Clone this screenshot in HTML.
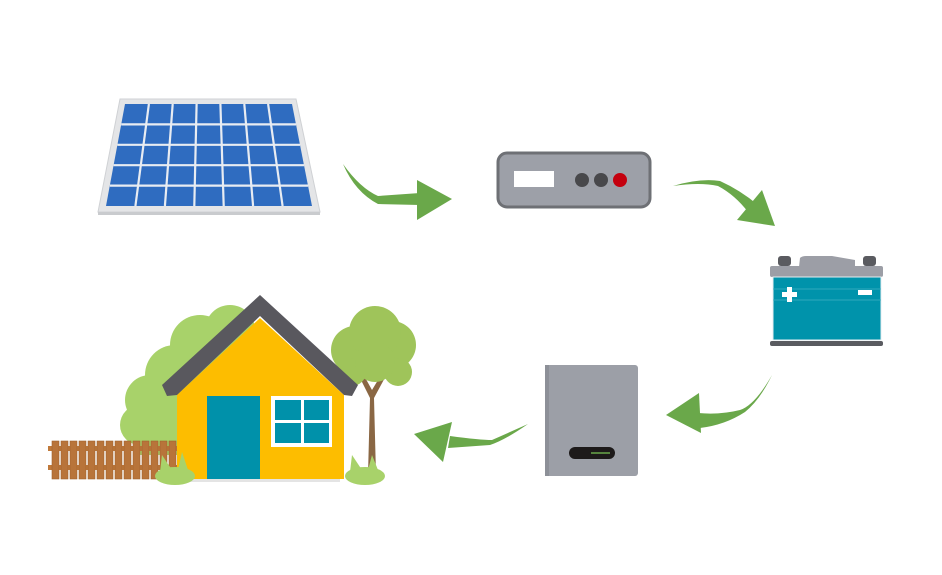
<!DOCTYPE html>
<html><head><meta charset="utf-8"><style>html,body{margin:0;padding:0;background:#fff;}svg{display:block}</style></head>
<body>
<svg width="942" height="575" viewBox="0 0 942 575" xmlns="http://www.w3.org/2000/svg">
<!-- Solar panel -->
<polygon points="120,99 296,99 320,212 98,212" fill="#e4e5e7" stroke="#cfd1d4" stroke-width="1"/>
<polygon points="98,212 320,212 320,215 98,215" fill="#c9cbce"/>
<polygon points="125,104 292,104 312,206 106,206" fill="#2f6cc0"/>
<g stroke="#e8ecf2" stroke-width="2.2">
<line x1="148.9" y1="104" x2="135.4" y2="206"/>
<line x1="172.7" y1="104" x2="164.9" y2="206"/>
<line x1="196.6" y1="104" x2="194.3" y2="206"/>
<line x1="220.4" y1="104" x2="223.7" y2="206"/>
<line x1="244.3" y1="104" x2="253.1" y2="206"/>
<line x1="268.1" y1="104" x2="282.6" y2="206"/>
<line x1="121.2" y1="124.4" x2="296" y2="124.4"/>
<line x1="117.4" y1="144.8" x2="300" y2="144.8"/>
<line x1="113.6" y1="165.2" x2="304" y2="165.2"/>
<line x1="109.8" y1="185.6" x2="308" y2="185.6"/>
</g>
<!-- Arrows -->
<g fill="#6aa84a">
<path d="M343,164 Q360,188 378,196 L420,193 L420,205 L378,204 Q355,192 343,164 Z"/>
<polygon points="417,180 452,199 417,220"/>
<path d="M673,186 Q700,178 720,181 Q740,190 758,205 L748,212 Q735,195 718,186 Q700,182 673,186 Z"/>
<polygon points="737,220 775,226 762,190"/>
<path d="M772,375 Q755,405 740,410 Q720,415 698,413 L700,428 Q725,425 745,412 Q760,400 772,375 Z"/>
<polygon points="666,415 699,393 701,433"/>
<path d="M528,424 Q505,440 490,445 L448,448 L450,436 Q480,440 492,440 Q510,432 528,424 Z"/>
<polygon points="414,434 452,422 443,462"/>
</g>
<!-- Charge controller -->
<rect x="498" y="153" width="152" height="54" rx="9" fill="#9da0a8" stroke="#6e7075" stroke-width="3"/>
<rect x="514" y="171" width="40" height="16" fill="#fff"/>
<circle cx="582" cy="180" r="7" fill="#48484b"/>
<circle cx="601" cy="180" r="7" fill="#48484b"/>
<circle cx="620" cy="180" r="7" fill="#c4000e"/>
<!-- Battery -->
<rect x="778" y="256" width="13" height="10" rx="3" fill="#5a5b60"/>
<rect x="863" y="256" width="13" height="10" rx="3" fill="#5a5b60"/>
<path d="M799,267 L800,258 Q802,256 806,256 L832,256 L855,260 L855,267 Z" fill="#9c9ea6"/>
<rect x="770" y="266" width="113" height="11" rx="2" fill="#9c9ea6"/>
<rect x="773" y="277" width="108" height="63" fill="#0093ab" stroke="#e6eef0" stroke-width="1"/>
<line x1="773" y1="289" x2="881" y2="289" stroke="#3fb0c2" stroke-width="0.7"/>
<line x1="773" y1="300" x2="881" y2="300" stroke="#3fb0c2" stroke-width="0.7"/>
<rect x="782" y="292" width="15" height="5" fill="#fff"/>
<rect x="787" y="287" width="5" height="15" fill="#fff"/>
<rect x="858" y="290" width="14" height="5" fill="#fff"/>
<rect x="770" y="341" width="113" height="5" rx="2" fill="#5a5b60"/>
<!-- Inverter -->
<rect x="545" y="365" width="93" height="111" rx="3" fill="#9c9fa7"/>
<rect x="545" y="365" width="4" height="111" fill="#8d9098"/>
<rect x="569" y="447" width="46" height="12" rx="6" fill="#1d1a1a"/>
<line x1="591" y1="453" x2="610" y2="453" stroke="#6aa84a" stroke-width="1.5"/>
<!-- Background bushes -->
<g fill="#a8d26a">
<circle cx="200" cy="345" r="30"/><circle cx="175" cy="375" r="30"/><circle cx="150" cy="400" r="25"/>
<circle cx="230" cy="330" r="25"/><circle cx="140" cy="425" r="20"/><rect x="135" y="380" width="60" height="75"/>
</g>
<!-- right tree -->
<path d="M370,398 L368,475 L376,475 L374,398 L388,372 L384,370 L372,390 L362,372 L358,374 Z" fill="#8a6744"/>
<g fill="#9fc45a">
<circle cx="355" cy="350" r="24"/><circle cx="392" cy="345" r="24"/><circle cx="375" cy="332" r="26"/><circle cx="352" cy="372" r="14"/><circle cx="398" cy="372" r="14"/><circle cx="375" cy="362" r="20"/>
</g>
<!-- fence -->
<g fill="#c0793a">
<rect x="48" y="446" width="132" height="5"/><rect x="48" y="465" width="132" height="5"/>
</g>
<g fill="#b8743a" stroke="#a1622d" stroke-width="0.6">
<rect x="52" y="441" width="7" height="38"/><rect x="61" y="441" width="7" height="38"/><rect x="70" y="441" width="7" height="38"/><rect x="79" y="441" width="7" height="38"/><rect x="88" y="441" width="7" height="38"/><rect x="97" y="441" width="7" height="38"/><rect x="106" y="441" width="7" height="38"/><rect x="115" y="441" width="7" height="38"/><rect x="124" y="441" width="7" height="38"/><rect x="133" y="441" width="7" height="38"/><rect x="142" y="441" width="7" height="38"/><rect x="151" y="441" width="7" height="38"/><rect x="160" y="441" width="7" height="38"/><rect x="169" y="441" width="7" height="38"/>
</g>
<!-- house -->
<rect x="190" y="478" width="150" height="4" fill="#e4e4e4"/>
<polygon points="177,395 260,318 344,395 344,479 177,479" fill="#fdbd00"/>
<polygon points="162,385 260,295 358,385 352,396 344,395 260,316 177,395 167,396" fill="#59585e"/>
<rect x="207" y="396" width="53" height="83" fill="#0091aa"/>
<rect x="271" y="396" width="61" height="51" fill="#fff"/>
<rect x="275" y="400" width="26" height="20" fill="#0091aa"/><rect x="304" y="400" width="25" height="20" fill="#0091aa"/>
<rect x="275" y="423" width="26" height="20" fill="#0091aa"/><rect x="304" y="423" width="25" height="20" fill="#0091aa"/>
<!-- front bushes -->
<g fill="#a8d26a">
<ellipse cx="175" cy="476" rx="20" ry="9"/><path d="M160,472 L162,455 L172,470 Z"/><path d="M178,470 L182,452 L188,470 Z"/>
<ellipse cx="365" cy="476" rx="20" ry="9"/><path d="M350,472 L352,455 L362,470 Z"/><path d="M368,470 L372,455 L378,470 Z"/>
</g>
</svg>
</body></html>
